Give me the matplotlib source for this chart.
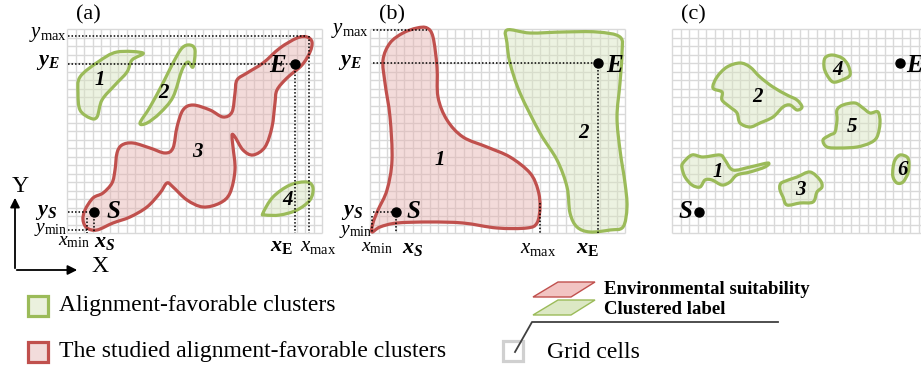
import numpy as np
import matplotlib
matplotlib.use("Agg")
import matplotlib.pyplot as plt
from matplotlib.path import Path
from matplotlib.patches import PathPatch, Rectangle, Polygon

plt.rcParams["font.family"] = ["Liberation Serif", "DejaVu Serif"]
plt.rcParams["mathtext.fontset"] = "custom"
plt.rcParams["mathtext.rm"] = "Liberation Serif"
plt.rcParams["mathtext.it"] = "Liberation Serif:italic"
plt.rcParams["mathtext.bf"] = "Liberation Serif:bold"
plt.rcParams["mathtext.bfit"] = "Liberation Serif:italic:bold"

# ---------------- cluster outlines (canvas pixel units) ----------------
a_cluster1 = [(80, 77), (98, 62), (117, 52), (143, 53), (132, 60), (127, 72),
              (115, 85), (102, 100), (97, 117), (90, 118), (80, 110), (78, 93)]
a_cluster2 = [(140, 123), (150, 107), (163, 83), (173, 63), (182, 48), (190, 45),
              (195, 50), (193, 67), (188, 62), (182, 70), (173, 97), (160, 113),
              (147, 123)]
a_cluster3 = [(85, 210), (93, 198), (103, 193), (112, 183), (115, 170), (117, 153),
              (122, 145), (133, 143), (150, 148), (165, 153), (173, 148), (177, 127),
              (183, 110), (193, 105), (210, 110), (223, 117), (232, 112), (235, 93),
              (237, 80), (247, 73), (263, 63), (280, 48), (297, 38), (307, 37),
              (312, 42), (310, 52), (302, 65), (287, 78), (277, 90), (275, 103),
              (272, 127), (265, 147), (253, 155), (243, 150), (235, 137), (232, 135),
              (233, 147), (235, 170), (230, 193), (220, 203), (203, 207), (187, 200),
              (173, 187), (167, 183), (160, 193), (147, 207), (130, 217), (113, 223),
              (97, 230), (87, 228), (83, 220)]
a_cluster4 = [(263, 213), (273, 197), (290, 185), (307, 182), (313, 188), (310, 200),
              (297, 210), (280, 215), (265, 215)]

b_cluster1 = [(427, 28), (433, 37), (437, 67), (438, 97), (447, 120), (463, 137),
              (487, 147), (510, 157), (530, 173), (538, 190), (540, 207), (537, 223),
              (527, 228), (497, 228), (463, 223), (430, 222), (397, 223), (380, 227),
              (372, 232), (373, 223), (378, 210), (387, 190), (392, 160), (390, 117),
              (385, 83), (383, 60), (390, 43), (403, 33), (417, 28)]
b_cluster2 = [(507, 30), (530, 33), (563, 32), (597, 32), (620, 37), (622, 53),
              (620, 83), (617, 117), (620, 150), (625, 183), (627, 207), (623, 227),
              (610, 230), (590, 232), (577, 227), (570, 213), (567, 187), (557, 160),
              (540, 133), (520, 93), (510, 63), (507, 43)]

c_cluster1 = [(683, 163), (692, 155), (703, 157), (720, 155), (725, 160), (733, 170),
              (750, 167), (768, 163), (765, 167), (750, 172), (737, 175), (730, 182),
              (722, 185), (712, 180), (705, 180), (700, 187), (692, 185), (685, 177),
              (682, 168)]
c_cluster2 = [(713, 88), (717, 77), (727, 67), (740, 63), (750, 67), (760, 77),
              (773, 87), (787, 95), (797, 100), (802, 107), (797, 110), (790, 105),
              (783, 107), (773, 117), (760, 123), (750, 127), (740, 123), (737, 113),
              (730, 107), (722, 100), (722, 92)]
c_cluster3 = [(780, 185), (783, 182), (797, 177), (810, 172), (820, 180), (822, 187),
              (817, 192), (813, 202), (800, 203), (787, 205), (783, 197), (780, 190)]
c_cluster4 = [(825, 58), (832, 55), (842, 58), (848, 65), (850, 75), (842, 80),
              (833, 82), (827, 75), (824, 67)]
c_cluster5 = [(837, 110), (843, 105), (855, 103), (863, 108), (870, 113), (878, 112),
              (880, 123), (877, 137), (870, 143), (857, 147), (840, 148), (827, 147),
              (823, 140), (830, 135), (835, 132), (837, 120)]
c_cluster6 = [(895, 160), (900, 155), (907, 157), (909, 163), (908, 173), (903, 182),
              (897, 183), (893, 177), (893, 168)]

# cluster number labels and their positions
a_numbers = ["1", "2", "3", "4"]
a_number_pos = [(100, 80), (163, 93), (197, 152), (288, 200)]
b_numbers = ["1", "2"]
b_number_pos = [(440, 160), (583, 133)]
c_numbers = ["1", "2", "3", "4", "5", "6"]
c_number_pos = [(718, 172), (757, 97), (800, 190), (838, 70), (852, 127), (903, 170)]

legend_labels = ["Alignment-favorable clusters",
                 "The studied alignment-favorable clusters",
                 "Grid cells"]
layer_labels = ["Environmental suitability", "Clustered label"]

RED_EDGE = "#c0504d"
RED_FACE = "#e6b0ae"
GREEN_EDGE = "#9bbb59"
GREEN_FACE = "#d7e4bd"
GRID = "#d9d9d9"

W, H = 921, 369
fig = plt.figure(figsize=(W / 100, H / 100), dpi=100)
ax = fig.add_axes([0, 0, 1, 1])
ax.set_xlim(0, W)
ax.set_ylim(H, 0)
ax.axis("off")


def draw_grid(x0, y0, x1, y1, step):
    xs = np.arange(x0, x1 + 0.1, step)
    ys = np.arange(y0, y1 + 0.1, step)
    ax.vlines(xs, y0, y1, color=GRID, lw=1.0, zorder=1)
    ax.hlines(ys, x0, min(x1, W), color=GRID, lw=1.0, zorder=1)


def smooth_path(points):
    """Closed Catmull-Rom outline expressed as cubic Bezier segments."""
    p = np.asarray(points, float)
    n = len(p)
    verts = [p[0]]
    codes = [Path.MOVETO]
    for i in range(n):
        p0, p1, p2, p3 = p[i - 1], p[i], p[(i + 1) % n], p[(i + 2) % n]
        c1 = p1 + (p2 - p0) / 6.0
        c2 = p2 - (p3 - p1) / 6.0
        verts += [c1, c2, p2]
        codes += [Path.CURVE4] * 3
    verts.append(p[0])
    codes.append(Path.CLOSEPOLY)
    return Path(verts, codes)


def draw_cluster(points, edge, face):
    path = smooth_path(points)
    ax.add_patch(PathPatch(path, facecolor=face, edgecolor="none", alpha=0.45, zorder=2))
    ax.add_patch(PathPatch(path, facecolor="none", edgecolor=edge, lw=2.3, zorder=3,
                           joinstyle="round"))


def dotted(x0, y0, x1, y1):
    ax.plot([x0, x1], [y0, y1], color="black", lw=1.1, ls=(0, (1, 1.3)), zorder=4)


def label(x, y, s, size=15, ha="center", **kw):
    ax.text(x, y, s, fontsize=size, ha=ha, va="center", zorder=6, **kw)


def point(x, y):
    ax.plot([x], [y], "o", color="black", ms=6.5, zorder=5)


# ---------------- grids ----------------
draw_grid(67, 29, 322, 233, 8.5)
draw_grid(370, 29, 625, 233, 8.5)
draw_grid(672, 29, 935, 233, 8.5)

# ---------------- panel (a) ----------------
for pts in (a_cluster1, a_cluster2, a_cluster4):
    draw_cluster(pts, GREEN_EDGE, GREEN_FACE)
draw_cluster(a_cluster3, RED_EDGE, RED_FACE)

dotted(68, 36, 307, 36)
dotted(309, 36, 309, 233)
dotted(68, 64, 295, 64)
dotted(295, 64, 295, 233)
dotted(68, 212, 94, 212)
dotted(94, 212, 94, 233)
dotted(68, 230, 87, 230)
dotted(87, 218, 87, 233)
point(94, 212)
point(295, 64)

label(88, 15, "(a)", 16)
label(67, 35, r"$y_{\mathrm{max}}$", 15, ha="right")
label(60, 63, r"$\mathbfit{y}_{\mathbfit{E}}$", 16, ha="right")
label(57, 212, r"$\mathbfit{y}_{\mathbfit{S}}$", 16, ha="right")
label(67, 230, r"$y_{\mathrm{min}}$", 14, ha="right")
label(74, 242, r"$x_{\mathrm{min}}$", 14)
label(105, 242, r"$\mathbfit{x}_{\mathbfit{S}}$", 16)
label(282, 246, r"$\mathbfit{x}_{\mathbf{E}}$", 16)
label(318, 246, r"$x_{\mathrm{max}}$", 15)
label(113, 212, "S", 18, fontweight="bold", style="italic")
label(277, 65, "E", 18, fontweight="bold", style="italic")
for s, (x, y) in zip(a_numbers, a_number_pos):
    label(x, y, s, 15, fontweight="bold", style="italic")

# coordinate axes sketch
ax.annotate("", xy=(15, 195), xytext=(15, 271),
            arrowprops=dict(arrowstyle="-|>", color="black", lw=1.3, mutation_scale=14))
ax.annotate("", xy=(80, 270), xytext=(14, 270),
            arrowprops=dict(arrowstyle="-|>", color="black", lw=1.3, mutation_scale=14))
label(20, 186, "Y", 17)
label(100, 267, "X", 17)

# ---------------- panel (b) ----------------
draw_cluster(b_cluster1, RED_EDGE, RED_FACE)
draw_cluster(b_cluster2, GREEN_EDGE, GREEN_FACE)

dotted(373, 30, 427, 30)
dotted(373, 63, 598, 63)
dotted(598, 63, 598, 233)
dotted(540, 203, 540, 233)
dotted(373, 212, 396, 212)
dotted(396, 212, 396, 233)
dotted(372, 216, 372, 233)
point(396, 212)
point(598, 63)

label(392, 15, "(b)", 16)
label(369, 30, r"$y_{\mathrm{max}}$", 15, ha="right")
label(362, 63, r"$\mathbfit{y}_{\mathbfit{E}}$", 16, ha="right")
label(363, 212, r"$\mathbfit{y}_{\mathbfit{S}}$", 16, ha="right")
label(372, 231, r"$y_{\mathrm{min}}$", 14, ha="right")
label(377, 248, r"$x_{\mathrm{min}}$", 14)
label(413, 248, r"$\mathbfit{x}_{\mathbfit{S}}$", 16)
label(538, 248, r"$x_{\mathrm{max}}$", 15)
label(588, 248, r"$\mathbfit{x}_{\mathbf{E}}$", 16)
label(413, 212, "S", 18, fontweight="bold", style="italic")
label(614, 65, "E", 18, fontweight="bold", style="italic")
for s, (x, y) in zip(b_numbers, b_number_pos):
    label(x, y, s, 15, fontweight="bold", style="italic")

# ---------------- panel (c) ----------------
for pts in (c_cluster1, c_cluster2, c_cluster3, c_cluster4, c_cluster5, c_cluster6):
    draw_cluster(pts, GREEN_EDGE, GREEN_FACE)
point(699, 212)
point(900, 63)
label(693, 15, "(c)", 16)
label(692, 212, "S", 18, ha="right", fontweight="bold", style="italic")
label(906, 65, "E", 18, ha="left", fontweight="bold", style="italic")
for s, (x, y) in zip(c_numbers, c_number_pos):
    label(x, y, s, 15, fontweight="bold", style="italic")

# ---------------- legend ----------------
ax.add_patch(Rectangle((28, 296), 20, 20, facecolor="#ebf1de", edgecolor=GREEN_EDGE,
                       lw=2.3, zorder=3))
ax.add_patch(Rectangle((28, 342), 20, 20, facecolor="#f2dcdb", edgecolor=RED_EDGE,
                       lw=2.3, zorder=3))
ax.add_patch(Rectangle((503, 341), 20, 20, facecolor="white", edgecolor="#d0d0d0",
                       lw=2.3, zorder=3))
label(59, 306, legend_labels[0], 17, ha="left")
label(59, 352, legend_labels[1], 17, ha="left")
label(547, 352, legend_labels[2], 17, ha="left")

ax.add_patch(Polygon([(533, 297), (558, 282), (595, 282), (571, 297)], closed=True,
                     facecolor="#f2c4c2", edgecolor=RED_EDGE, lw=1.0, zorder=3))
ax.add_patch(Polygon([(533, 315), (558, 300), (595, 300), (571, 315)], closed=True,
                     facecolor="#dce8c4", edgecolor=GREEN_EDGE, lw=1.0, zorder=3))
label(604, 289, layer_labels[0], 13.5, ha="left", fontweight="bold")
label(604, 310, layer_labels[1], 13.5, ha="left", fontweight="bold")
ax.plot([515, 532, 778], [352, 322, 322], color="#404040", lw=1.3, zorder=4)

fig.savefig("out.png", dpi=100, facecolor="white")
